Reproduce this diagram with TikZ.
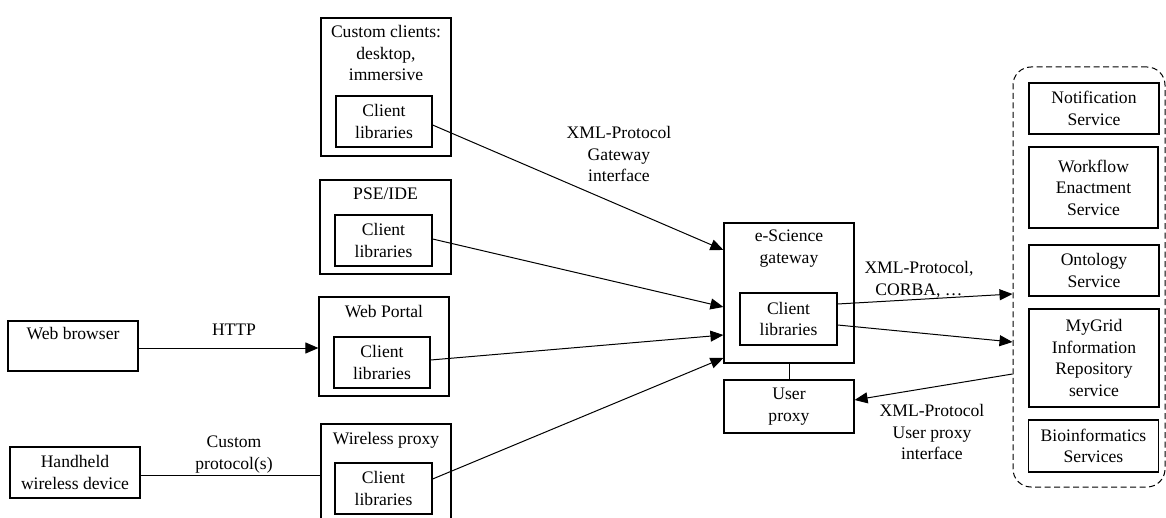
\documentclass[tikz,border=0pt]{standalone}
\usepackage{fontspec}
\setmainfont{Liberation Serif}
\usetikzlibrary{arrows.meta,calc}
\begin{document}
\begin{tikzpicture}[x=1pt,y=-1pt,
  every node/.style={font=\fontsize{17.6}{21.5}\selectfont, align=center, inner sep=0pt},
  box/.style={draw, line width=1.2pt, inner sep=0pt},
  conn/.style={line width=1pt},
  arr/.style={line width=1pt, -{Triangle[length=13pt,width=11pt]}},
  svc/.style={draw, line width=1pt, dash pattern=on 6pt off 3.5pt, rounded corners=18pt}
]
\useasboundingbox (0,0) rectangle (1166,518);

% left-most clients
\node[box, minimum width=130, minimum height=50] (wb) at (73,346) {};
\node (wbt) at (73,334) {Web browser};
\node[box, minimum width=130, minimum height=51] (hh) at (75,472.5) {Handheld\\wireless device};

% client containers
\node[box, minimum width=130, minimum height=138] (cc) at (386,87) {};
\node (cct) at (386,53) {Custom clients:\\desktop,\\immersive};
\node[box, minimum width=96, minimum height=51] (ccl) at (384,121.5) {Client\\libraries};

\node[box, minimum width=131, minimum height=94] (pse) at (385.5,227) {};
\node (pset) at (385.5,194) {PSE/IDE};
\node[box, minimum width=97, minimum height=51] (psel) at (383.5,240.5) {Client\\libraries};

\node[box, minimum width=130, minimum height=99] (wp) at (384,346.5) {};
\node (wpt) at (384,312) {Web Portal};
\node[box, minimum width=96, minimum height=51] (wpl) at (382,362.5) {Client\\libraries};

\node[box, minimum width=130, minimum height=101] (wl) at (386,474.5) {};
\node (wlt) at (386,440) {Wireless proxy};
\node[box, minimum width=97, minimum height=51] (wll) at (383.5,488.5) {Client\\libraries};

% gateway
\node[box, minimum width=130, minimum height=140] (gw) at (789,293) {};
\node (gwt) at (789,248.5) {e-Science\\gateway};
\node[box, minimum width=97, minimum height=52] (gwl) at (788.5,319) {Client\\libraries};
\node[box, minimum width=130, minimum height=53] (up) at (789,406.5) {User\\proxy};

% services
\node[svc, minimum width=152, minimum height=420] (svcs) at (1089,277) {};
\node[box, minimum width=130, minimum height=51] (s1) at (1094,108.5) {Notification\\Service};
\node[box, minimum width=129, minimum height=81] (s2) at (1093.5,187.5) {Workflow\\Enactment\\Service};
\node[box, minimum width=130, minimum height=51] (s3) at (1094,270.5) {Ontology\\Service};
\node[box, minimum width=130, minimum height=98] (s4) at (1094,358) {MyGrid\\Information\\Repository\\service};
\node[box, minimum width=130, minimum height=52] (s5) at (1093.5,446) {Bioinformatics\\Services};

% connectors
\draw[arr] (wb.east |- 0,348) -- (wp.west |- 0,348);
\draw[conn] (hh.east |- 0,475) -- (wl.west |- 0,475);

\draw[arr] (ccl.east |- 0,125) -- (gw.west |- 0,250);
\draw[arr] (psel.east |- 0,239) -- (gw.west |- 0,307);
\draw[arr] (wpl.east |- 0,360) -- (gw.west |- 0,335);
\draw[arr] (wll.east |- 0,479) -- (gw.west |- 0,358);

\draw[conn] (gw.south) -- (up.north);

\draw[arr] (gwl.east |- 0,304) -- (svcs.west |- 0,294);
\draw[arr] (gwl.east |- 0,325) -- (svcs.west |- 0,342);
\draw[arr] (svcs.west |- 0,374) -- (up.east |- 0,400);

% labels
\node (lhttp) at (234,330) {HTTP};
\node (lcp) at (234,454.5) {Custom\\protocol(s)};
\node (lgw) at (619,154) {XML-Protocol\\Gateway\\interface};
\node (lcorba) at (919,279.5) {XML-Protocol,\\CORBA, …};
\node (lup) at (932,432) {XML-Protocol\\User proxy\\interface};
\end{tikzpicture}
\end{document}
